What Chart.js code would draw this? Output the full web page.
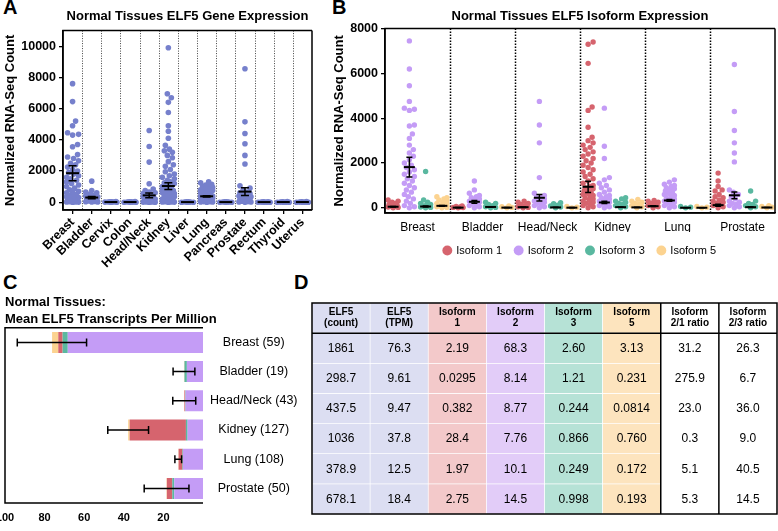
<!DOCTYPE html>
<html>
<head>
<meta charset="utf-8">
<script src="https://cdn.jsdelivr.net/npm/chart.js@4.4.0/dist/chart.umd.min.js"></script>
<style>
  body { margin: 0; width: 778px; height: 531px; position: relative; overflow: hidden; background: #fff;
         font-family: "Liberation Sans", Arial, sans-serif; }
  .panel { position: absolute; }
  .tag { position: absolute; font-weight: bold; font-size: 20px; line-height: 20px; color: #000; }
</style>
</head>
<body>
<div class="tag" style="left:3px;top:-3px">A</div>
<div class="tag" style="left:332px;top:-3px">B</div>
<div class="tag" style="left:3px;top:272px">C</div>
<div class="tag" style="left:294px;top:272px">D</div>

<div class="panel" style="left:0;top:0;width:330px;height:270px"><canvas id="chartA"></canvas></div>
<div class="panel" style="left:330px;top:0;width:448px;height:266px"><canvas id="chartB"></canvas></div>
<div class="panel" style="left:0;top:270px;width:305px;height:261px"><canvas id="chartC"></canvas></div>
<div class="panel" style="left:311px;top:302px;width:467px;height:213px"><canvas id="chartD"></canvas></div>

<script>
// ---- Panel A: ELF5 gene counts per tissue ----
const tissuesA = ['Breast', 'Bladder', 'Cervix', 'Colon', 'Head/Neck', 'Kidney', 'Liver', 'Lung',
                  'Pancreas', 'Prostate', 'Rectum', 'Thyroid', 'Uterus'];
const yTicksA = [0, 2000, 4000, 6000, 8000, 10000];
const geneCounts = [
  [7600, 6450, 5200, 4900, 4450, 4350, 4300, 3700, 3550, 3050, 2900, 2800, 2650, 2500, 2400, 2250, 2100, 2000, 1900,
   1800, 1700, 1600, 1500, 1400, 1300, 1200, 1100, 1000, 900, 800, 700, 650, 600, 500, 450, 400, 350, 300, 250, 200,
   150, 100, 80, 50, 30, 20, 10, 5, 0],
  [1350, 750, 650, 600, 500, 450, 400, 350, 300, 250, 200, 150, 120, 100, 80, 50, 30, 20, 10],
  [40, 30, 20, 15, 10, 5, 0, 0],
  [35, 25, 20, 10, 5, 0, 0, 0],
  [4600, 3570, 2570, 1180, 850, 750, 650, 600, 550, 500, 450, 400, 350, 300, 250, 200, 180, 150, 120, 100, 80, 60,
   50, 40, 30, 20, 10, 5, 0, 0],
  [9900, 6950, 6700, 6400, 5750, 4900, 4550, 4100, 3650, 3400, 3300, 3200, 3000, 2850, 2600, 2400, 2300, 2100, 1950,
   1800, 1700, 1600, 1500, 1400, 1300, 1250, 1200, 1100, 1000, 950, 900, 850, 800, 750, 700, 650, 600, 550, 500, 450,
   400, 350, 300, 250, 200, 180, 150, 120, 100, 80, 60, 50, 40, 30, 20, 10, 5, 0],
  [30, 20, 10, 5, 0, 0, 0],
  [1300, 1250, 1150, 1100, 1050, 1000, 950, 900, 850, 800, 750, 700, 650, 600, 550, 500, 450, 400, 380, 350, 320,
   300, 280, 250, 220, 200, 180, 150, 120, 100, 80, 60, 50, 40, 30, 20, 10, 0],
  [30, 20, 10, 5, 0, 0, 0],
  [8550, 5150, 4400, 3750, 3000, 2450, 1050, 900, 750, 650, 600, 550, 500, 450, 400, 350, 300, 250, 200, 150, 120,
   100, 80, 60, 40, 20, 10, 0],
  [30, 20, 10, 5, 0, 0, 0, 0],
  [40, 25, 15, 5, 0, 0, 0, 0],
  [35, 25, 15, 5, 0, 0, 0, 0]
];
const geneMean = [1861, 298.7, 10, 10, 437.5, 1036, 8, 378.9, 8, 678.1, 8, 10, 10];
const geneSem = [480, 70, 0, 0, 160, 215, 0, 40, 0, 245, 0, 0, 0];

// ---- Panel B: isoform counts (one list per tissue) ----
const tissuesB = ['Breast', 'Bladder', 'Head/Neck', 'Kidney', 'Lung', 'Prostate'];
const isoformNames = ['Isoform 1', 'Isoform 2', 'Isoform 3', 'Isoform 5'];
const yTicksB = [0, 2000, 4000, 6000, 8000];
const iso1Counts = [
  [350, 300, 250, 200, 150, 120, 100, 80, 60, 40, 20, 0],
  [80, 60, 40, 20, 10, 0],
  [300, 250, 200, 150, 100, 50, 20, 0],
  [7400, 7300, 6450, 4500, 4350, 3600, 3150, 3000, 2900, 2800, 2700, 2600, 2500, 2400, 2300, 2200, 2100, 2000, 1900,
   1800, 1700, 1600, 1500, 1400, 1300, 1200, 1100, 1000, 950, 900, 850, 800, 750, 700, 650, 600, 550, 500, 450, 400,
   350, 300, 250, 200, 150, 100, 50, 0],
  [330, 300, 250, 200, 150, 100, 50, 0],
  [1550, 1200, 950, 800, 750, 600, 500, 450, 350, 300, 250, 200, 150, 100, 50, 0]
];
const iso2Counts = [
  [7450, 6200, 5450, 4750, 4450, 4400, 4350, 3700, 3650, 3300, 3100, 2800, 2600, 2450, 2300, 2150, 2000, 1900, 1800,
   1700, 1600, 1500, 1400, 1300, 1200, 1100, 1000, 900, 800, 700, 600, 500, 400, 300, 200, 100, 50, 0],
  [1200, 800, 650, 550, 500, 450, 400, 350, 300, 250, 200, 150, 100, 50, 0],
  [4750, 3700, 2900, 1350, 650, 550, 500, 450, 400, 350, 300, 250, 200, 150, 100, 50, 0],
  [4450, 2750, 2200, 1350, 1250, 1100, 1000, 900, 800, 700, 600, 550, 500, 450, 400, 350, 300, 250, 200, 150, 100, 50, 0],
  [1250, 1150, 1050, 1000, 950, 900, 850, 800, 750, 700, 650, 600, 550, 500, 450, 400, 350, 300, 250, 200, 150, 100, 50, 0],
  [6400, 4300, 3450, 2900, 2450, 2050, 800, 700, 600, 500, 400, 300, 250, 200, 150, 100, 50, 0]
];
const iso3Counts = [
  [1620, 350, 250, 200, 150, 100, 80, 60, 40, 20, 0],
  [250, 200, 150, 100, 50, 20, 0],
  [230, 180, 120, 80, 40, 0],
  [450, 400, 300, 250, 200, 150, 100, 50, 0],
  [60, 30, 0],
  [750, 300, 200, 150, 100, 50, 0]
];
const iso5Counts = [
  [500, 450, 400, 350, 300, 250, 200, 150, 100, 80, 50, 20, 0],
  [80, 50, 20, 0],
  [60, 30, 0],
  [380, 300, 250, 200, 150, 100, 50, 0],
  [60, 30, 0],
  [100, 60, 30, 0]
];
const iso1Mean = [50, 10, 30, 940, 75, 120];
const iso1Sem = [15, 3, 10, 250, 15, 45];
const iso2Mean = [1818, 270, 450, 240, 330, 560];
const iso2Sem = [440, 60, 150, 50, 40, 150];
const iso3Mean = [60, 40, 20, 30, 5, 30];
const iso3Sem = [20, 10, 8, 8, 2, 15];
const iso5Mean = [90, 10, 8, 20, 5, 15];
const iso5Sem = [15, 4, 3, 5, 2, 3];

// ---- Panel C: mean TPM per isoform ----
const tissuesC = ['Breast (59)', 'Bladder (19)', 'Head/Neck (43)', 'Kidney (127)', 'Lung (108)', 'Prostate (50)'];
const xTicksC = [100, 80, 60, 40, 20];
const iso1Tpm = [2.19, 0.0295, 0.382, 28.4, 1.97, 2.75];
const iso2Tpm = [68.3, 8.14, 8.77, 7.76, 10.1, 14.5];
const iso3Tpm = [2.60, 1.21, 0.244, 0.866, 0.249, 0.998];
const iso5Tpm = [3.13, 0.231, 0.0814, 0.760, 0.172, 0.193];
const totalTpm = [76.3, 9.61, 9.47, 37.8, 12.5, 18.4];
const totalTpmSem = [17.5, 5.5, 5.8, 10.3, 1.7, 11.3];

// ---- Panel D: table ----
const tableHeaders = [['ELF5', '(count)'], ['ELF5', '(TPM)'], ['Isoform', '1'], ['Isoform', '2'],
                      ['Isoform', '3'], ['Isoform', '5'], ['Isoform', '2/1 ratio'], ['Isoform', '2/3 ratio']];
const elf5Count = ['1861', '298.7', '437.5', '1036', '378.9', '678.1'];
const elf5Tpm = ['76.3', '9.61', '9.47', '37.8', '12.5', '18.4'];
const iso1Text = ['2.19', '0.0295', '0.382', '28.4', '1.97', '2.75'];
const iso2Text = ['68.3', '8.14', '8.77', '7.76', '10.1', '14.5'];
const iso3Text = ['2.60', '1.21', '0.244', '0.866', '0.249', '0.998'];
const iso5Text = ['3.13', '0.231', '0.0814', '0.760', '0.172', '0.193'];
const ratio21 = ['31.2', '275.9', '23.0', '0.3', '5.1', '5.3'];
const ratio23 = ['26.3', '6.7', '36.0', '9.0', '40.5', '14.5'];

// colours
const dotA = '#7680cc';
const isoColors = ['#d6646e', '#c49cf6', '#5ab8a0', '#fcd390'];
const cellColors = ['#dcdef2', '#dcdef2', '#f3c9ca', '#e2ccf8', '#b6e2d6', '#fde4be', '#ffffff', '#ffffff'];

Chart.defaults.font.family = '"Liberation Sans", Arial, sans-serif';
Chart.defaults.color = '#000';
Chart.defaults.animation = false;
Chart.defaults.plugins.tooltip.enabled = false;

// simple beeswarm: spread dots sideways (in px) so they overlap as little as possible
function swarm(values, center, pxPerX, pxPerY, r, maxPx) {
  const order = values.map((v, i) => i).sort((a, b) => values[a] - values[b]);
  const placed = [];
  const out = [];
  const d = 2 * r * 0.95;
  for (const i of order) {
    const yp = values[i] * pxPerY;
    let best = 0, bestDist = -1;
    for (let k = 0; k <= 2 * maxPx; k++) {
      const off = (k % 2 ? 1 : -1) * Math.ceil(k / 2);
      let m = Infinity;
      for (const p of placed) m = Math.min(m, Math.hypot(off - p.x, yp - p.y));
      if (m >= d) { best = off; bestDist = m; break; }
      if (m > bestDist) { bestDist = m; best = off; }
    }
    placed.push({ x: best, y: yp });
    out.push({ x: center + best / pxPerX, y: values[i] });
  }
  return out;
}

function frame(sides, width) {
  return {
    id: 'frame',
    afterDraw(chart) {
      const { ctx, chartArea: a } = chart;
      ctx.save();
      ctx.strokeStyle = '#000';
      ctx.lineWidth = width;
      ctx.beginPath();
      if (sides.includes('t')) { ctx.moveTo(a.left, a.top); ctx.lineTo(a.right, a.top); }
      if (sides.includes('r')) { ctx.moveTo(a.right, a.top); ctx.lineTo(a.right, a.bottom); }
      if (sides.includes('b')) { ctx.moveTo(a.left - width / 2, a.bottom); ctx.lineTo(a.right, a.bottom); }
      if (sides.includes('l')) { ctx.moveTo(a.left, a.top - width / 2); ctx.lineTo(a.left, a.bottom); }
      ctx.stroke();
      ctx.restore();
    }
  };
}

function separators(values, color, width, dash) {
  return {
    id: 'separators',
    beforeDatasetsDraw(chart) {
      const { ctx, chartArea: a, scales: { x } } = chart;
      ctx.save();
      ctx.strokeStyle = color;
      ctx.lineWidth = width;
      ctx.setLineDash(dash);
      values.forEach(v => {
        const px = Math.round(x.getPixelForValue(v)) + 0.5;
        ctx.beginPath(); ctx.moveTo(px, a.top); ctx.lineTo(px, a.bottom); ctx.stroke();
      });
      ctx.restore();
    }
  };
}

function meanSem(groups, meanW, capW) {
  return {
    id: 'meanSem',
    afterDatasetsDraw(chart) {
      const { ctx, scales: { x, y } } = chart;
      ctx.save();
      ctx.strokeStyle = '#000';
      groups.forEach(g => {
        const px = x.getPixelForValue(g.x), pm = y.getPixelForValue(g.mean);
        ctx.lineWidth = 2;
        ctx.beginPath(); ctx.moveTo(px - meanW / 2, pm); ctx.lineTo(px + meanW / 2, pm); ctx.stroke();
        if (g.sem > 0) {
          const hi = y.getPixelForValue(g.mean + g.sem), lo = y.getPixelForValue(g.mean - g.sem);
          ctx.lineWidth = 1.5;
          ctx.beginPath();
          ctx.moveTo(px, hi); ctx.lineTo(px, lo);
          ctx.moveTo(px - capW / 2, hi); ctx.lineTo(px + capW / 2, hi);
          ctx.moveTo(px - capW / 2, lo); ctx.lineTo(px + capW / 2, lo);
          ctx.stroke();
        }
      });
      ctx.restore();
    }
  };
}

const axisGrid = { drawOnChartArea: false, color: '#000', tickLength: 4, lineWidth: 1.3 };
const axisBorder = { color: '#000', width: 1.5 };

// ---------- A ----------
const pointsA = [];
geneCounts.forEach((vals, i) => pointsA.push(...swarm(vals, i, 249 / 13, 179 / 11500, 2.8, 6)));

new Chart(document.getElementById('chartA'), {
  type: 'scatter',
  data: { datasets: [{ data: pointsA, backgroundColor: dotA, borderWidth: 0, pointRadius: 2.8, pointHoverRadius: 2.8 }] },
  options: {
    responsive: true, maintainAspectRatio: false,
    layout: { padding: { left: 0, right: 18, top: 0, bottom: 0 } },
    plugins: {
      legend: { display: false },
      title: { display: true, fullSize: false, text: 'Normal Tissues ELF5 Gene Expression',
               font: { size: 13, weight: 'bold' }, padding: { top: 9, bottom: 6 } }
    },
    scales: {
      x: {
        type: 'linear', min: -0.5, max: 12.5,
        afterBuildTicks: s => { s.ticks = tissuesA.map((t, i) => ({ value: i })); },
        afterFit: s => { s.height = 60; },
        ticks: { callback: (v, i) => tissuesA[i], autoSkip: false, minRotation: 45, maxRotation: 45,
                 font: { size: 12.5, weight: 'bold' }, padding: 1 },
        grid: axisGrid, border: axisBorder
      },
      y: {
        min: -500, max: 11000,
        afterBuildTicks: s => { s.ticks = yTicksA.map(v => ({ value: v })); },
        afterFit: s => { s.width = 63; },
        ticks: { callback: v => String(v), font: { size: 12.5, weight: 'bold' }, padding: 3 },
        grid: axisGrid, border: axisBorder,
        title: { display: true, text: 'Normalized RNA-Seq Count', font: { size: 13, weight: 'bold' }, padding: { top: 3, bottom: 0 } }
      }
    }
  },
  plugins: [
    frame('trbl', 1.5),
    separators(tissuesA.slice(1).map((t, i) => i + 0.5), '#444', 1, [1, 1.5]),
    meanSem(geneMean.map((m, i) => ({ x: i, mean: m, sem: geneSem[i] })), 13, 8)
  ]
});

// ---------- B ----------
const isoCounts = [iso1Counts, iso2Counts, iso3Counts, iso5Counts];
const isoMeans = [iso1Mean, iso2Mean, iso3Mean, iso5Mean];
const isoSems = [iso1Sem, iso2Sem, iso3Sem, iso5Sem];
const datasetsB = isoformNames.map((name, k) => {
  const pts = [];
  isoCounts[k].forEach((vals, t) => pts.push(...swarm(vals, t * 4 + k + 0.5, 390 / 24, 181 / 8230, 2.7, 5)));
  return { label: name, data: pts, backgroundColor: isoColors[k], borderWidth: 0, pointRadius: 2.7,
           pointHoverRadius: 2.7, pointStyle: 'circle' };
});
const groupsB = [];
isoformNames.forEach((n, k) => tissuesB.forEach((t, i) =>
  groupsB.push({ x: i * 4 + k + 0.5, mean: isoMeans[k][i], sem: isoSems[k][i] })));

new Chart(document.getElementById('chartB'), {
  type: 'scatter',
  data: { datasets: datasetsB },
  options: {
    responsive: true, maintainAspectRatio: false,
    layout: { padding: { left: 0, right: 3, top: 0, bottom: 0 } },
    plugins: {
      legend: { position: 'bottom', fullSize: false,
                labels: { usePointStyle: true, pointStyle: 'circle', boxWidth: 7, boxHeight: 7, padding: 13,
                          font: { size: 11 } } },
      title: { display: true, fullSize: false, text: 'Normal Tissues ELF5 Isoform Expression',
               font: { size: 13, weight: 'bold' }, padding: { top: 9, bottom: 4 } }
    },
    scales: {
      x: {
        type: 'linear', min: 0, max: 24,
        afterBuildTicks: s => { s.ticks = tissuesB.map((t, i) => ({ value: i * 4 + 2 })); },
        afterFit: s => { s.height = 19; },
        ticks: { callback: (v, i) => tissuesB[i], autoSkip: false, maxRotation: 0, font: { size: 12 }, padding: 7 },
        grid: { display: false, drawTicks: false }, border: axisBorder
      },
      y: {
        min: -230, max: 8000,
        afterBuildTicks: s => { s.ticks = yTicksB.map(v => ({ value: v })); },
        afterFit: s => { s.width = 55; },
        ticks: { callback: v => String(v), font: { size: 12.5, weight: 'bold' }, padding: 3 },
        grid: axisGrid, border: axisBorder,
        title: { display: true, text: 'Normalized RNA-Seq Count', font: { size: 13, weight: 'bold' }, padding: { top: 2, bottom: 0 } }
      }
    }
  },
  plugins: [
    frame('trbl', 1.5),
    separators([4, 8, 12, 16, 20], '#000', 1.5, [1.5, 1.5]),
    meanSem(groupsB, 11, 6)
  ]
});

// ---------- C ----------
const errorBarsC = {
  id: 'errorBarsC',
  afterDatasetsDraw(chart) {
    const { ctx, scales: { x, y } } = chart;
    ctx.save();
    ctx.strokeStyle = '#000';
    ctx.lineWidth = 1.5;
    totalTpm.forEach((m, i) => {
      const py = y.getPixelForValue(i);
      const a = x.getPixelForValue(m - totalTpmSem[i]), b = x.getPixelForValue(m + totalTpmSem[i]);
      ctx.beginPath();
      ctx.moveTo(a, py); ctx.lineTo(b, py);
      ctx.moveTo(a, py - 4); ctx.lineTo(a, py + 4);
      ctx.moveTo(b, py - 4); ctx.lineTo(b, py + 4);
      ctx.stroke();
    });
    ctx.restore();
  }
};

const stackC = [[iso2Tpm, 1], [iso3Tpm, 2], [iso1Tpm, 0], [iso5Tpm, 3]];
new Chart(document.getElementById('chartC'), {
  type: 'bar',
  data: {
    labels: tissuesC,
    datasets: stackC.map(([vals, k]) => ({ label: isoformNames[k], data: vals, backgroundColor: isoColors[k],
                                            borderWidth: 0, barPercentage: 0.72, categoryPercentage: 1 }))
  },
  options: {
    indexAxis: 'y',
    responsive: true, maintainAspectRatio: false,
    layout: { padding: { left: 5, right: 0, top: 0, bottom: 0 } },
    plugins: {
      legend: { display: false },
      title: { display: true, align: 'start', text: ['Normal Tissues:', 'Mean ELF5 Transcripts Per Million'],
               font: { size: 13, weight: 'bold', lineHeight: 1.3 }, padding: { top: 24, bottom: 0 } }
    },
    scales: {
      x: {
        stacked: true, reverse: true, min: 0, max: 100,
        afterBuildTicks: s => { s.ticks = xTicksC.map(v => ({ value: v })); },
        afterFit: s => { s.height = 28; s.paddingLeft = 0; s.paddingRight = 0; },
        ticks: { font: { size: 11, weight: 'bold' }, padding: 8, maxRotation: 0 },
        grid: { display: false, drawTicks: false }, border: { display: false }
      },
      y: {
        stacked: true, position: 'right',
        afterFit: s => { s.width = 102; },
        ticks: { crossAlign: 'center', padding: 7, font: { size: 12.5 } },
        grid: { display: false, drawTicks: false }, border: { display: false }
      }
    }
  },
  plugins: [frame('tbl', 1.5), errorBarsC]
});

// ---------- D ----------
const tableColumns = [elf5Count, elf5Tpm, iso1Text, iso2Text, iso3Text, iso5Text, ratio21, ratio23];
const rowsD = elf5Count.length + 1;
const tableText = {
  id: 'tableText',
  afterDatasetsDraw(chart) {
    const { ctx, chartArea: a, scales: { y } } = chart;
    ctx.save();
    ctx.fillStyle = '#000';
    ctx.textAlign = 'center';
    ctx.textBaseline = 'middle';
    for (let r = 0; r < rowsD; r++) {
      chart.getDatasetMeta(r).data.forEach((el, c) => {
        const cy = (el.y + el.base) / 2;
        if (r === 0) {
          ctx.font = 'bold 10px "Liberation Sans", Arial, sans-serif';
          ctx.fillText(tableHeaders[c][0], el.x, cy - 5.5);
          ctx.fillText(tableHeaders[c][1], el.x, cy + 5.5);
        } else {
          ctx.font = '12px "Liberation Sans", Arial, sans-serif';
          ctx.fillText(tableColumns[c][r - 1], el.x, cy + 0.5);
        }
      });
    }
    // black rules: header line, ratio column borders, outer frame
    const els = chart.getDatasetMeta(0).data;
    ctx.strokeStyle = '#000';
    ctx.lineWidth = 1.5;
    ctx.beginPath();
    const hy = y.getPixelForValue(1);
    ctx.moveTo(a.left, hy); ctx.lineTo(a.right, hy);
    [5, 6].forEach(c => {
      const px = els[c].x + els[c].width / 2;
      ctx.moveTo(px, a.top); ctx.lineTo(px, a.bottom);
    });
    ctx.rect(a.left, a.top, a.right - a.left, a.bottom - a.top);
    ctx.stroke();
    ctx.restore();
  }
};

const datasetsD = [];
for (let r = 0; r < rowsD; r++) {
  datasetsD.push({
    data: tableColumns.map(() => [r, r + 1]),
    backgroundColor: cellColors,
    borderColor: '#ffffff', borderWidth: 0.7, borderSkipped: false,
    grouped: false, barPercentage: 1, categoryPercentage: 1
  });
}
new Chart(document.getElementById('chartD'), {
  type: 'bar',
  data: { labels: tableHeaders.map(h => h.join(' ')), datasets: datasetsD },
  options: {
    responsive: true, maintainAspectRatio: false,
    layout: { padding: 1 },
    plugins: { legend: { display: false }, title: { display: false } },
    scales: {
      x: { display: false },
      y: { display: false, min: 0, max: rowsD, reverse: true }
    }
  },
  plugins: [tableText]
});
</script>
</body>
</html>
